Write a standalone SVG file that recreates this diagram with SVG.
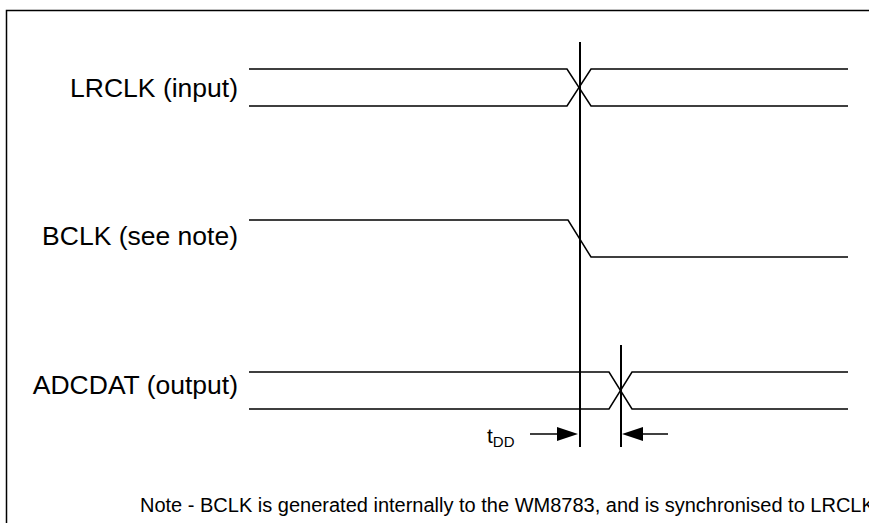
<svg xmlns="http://www.w3.org/2000/svg" width="869" height="523" viewBox="0 0 869 523">
<style>
.sig{fill:none;stroke:#000;stroke-width:1.5;stroke-linejoin:miter}
.mark{fill:none;stroke:#000;stroke-width:2}
.lbl{font-family:"Liberation Sans",Arial,sans-serif;font-size:26.5px;fill:#000;text-anchor:end}
.note{font-family:"Liberation Sans",Arial,sans-serif;font-size:20px;fill:#000}
.td{font-family:"Liberation Sans",Arial,sans-serif;font-size:21px;fill:#000}
</style>
<rect width="869" height="523" fill="#fff"/>
<g id="frame">
<path d="M6.5,523 V10.5 H869" fill="none" stroke="#000" stroke-width="1.5"/>
</g>
<g id="lrclk">
<text class="lbl" x="238" y="97">LRCLK (input)</text>
<path class="sig" d="M249,69 H567 L591,106 H848"/>
<path class="sig" d="M249,106 H567 L591,69 H848"/>
</g>
<g id="bclk">
<text class="lbl" x="238" y="245">BCLK (see note)</text>
<path class="sig" d="M249,220 H568 L591,257 H848"/>
</g>
<g id="adcdat">
<text class="lbl" x="238" y="394">ADCDAT (output)</text>
<path class="sig" d="M249,372 H609 L632,409 H848"/>
<path class="sig" d="M249,409 H609 L632,372 H848"/>
</g>
<g id="connectors">
<line class="mark" x1="580" y1="42" x2="580" y2="447"/>
<line class="mark" x1="621" y1="345" x2="621" y2="447"/>
<line x1="530" y1="434" x2="560" y2="434" stroke="#000" stroke-width="1.5"/>
<polygon points="557,427 578,434 557,441" fill="#000"/>
<line x1="640" y1="434" x2="668" y2="434" stroke="#000" stroke-width="1.5"/>
<polygon points="643,427 622,434 643,441" fill="#000"/>
</g>
<g id="tdd">
<text class="td" x="487" y="443">t<tspan font-size="15" dy="4">DD</tspan></text>
</g>
<g id="note">
<text class="note" x="140" y="512">Note - BCLK is generated internally to the WM8783, and is synchronised to LRCLK</text>
</g>
</svg>
